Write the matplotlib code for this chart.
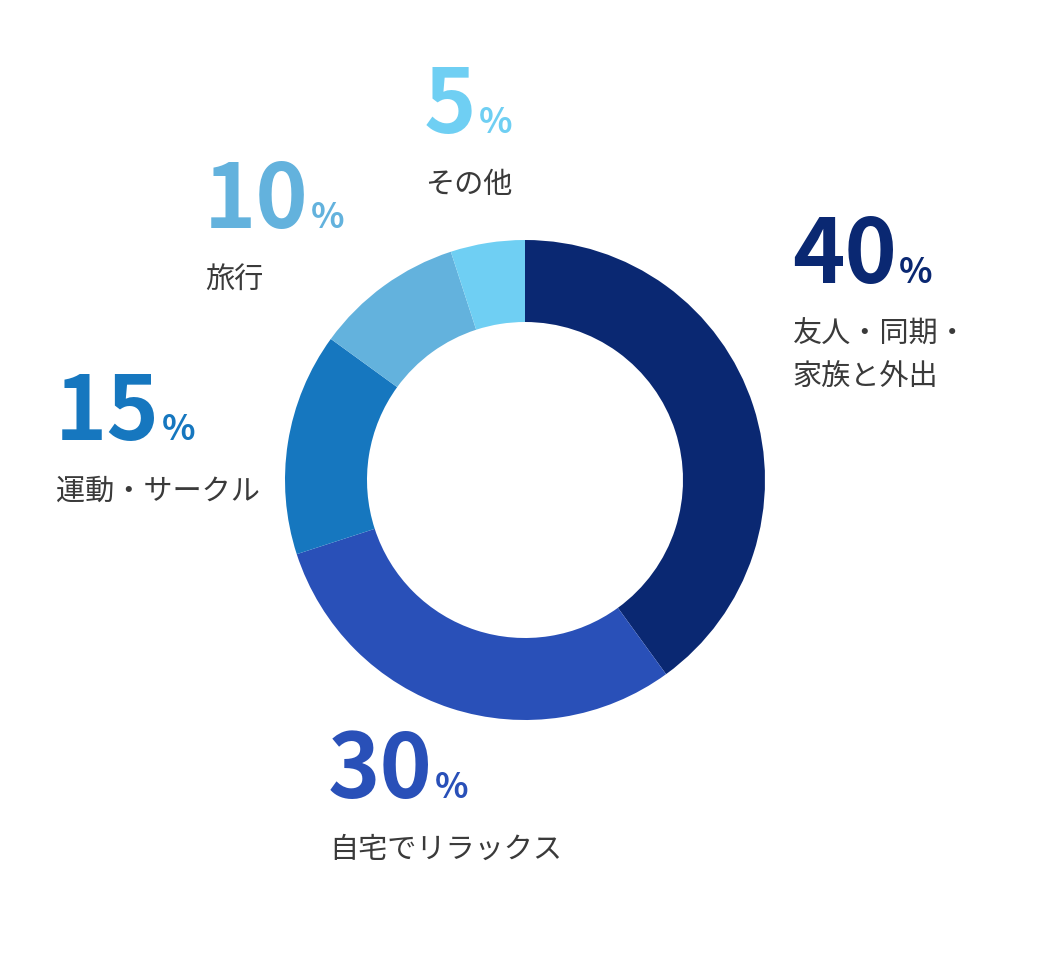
import matplotlib
matplotlib.use("Agg")
import matplotlib.pyplot as plt

plt.rcParams['font.family'] = ['Noto Sans CJK JP', 'DejaVu Sans']

categories = ["友人・同期・\n家族と外出", "自宅でリラックス", "運動・サークル", "旅行", "その他"]
values = [40, 30, 15, 10, 5]
colors = ["#0A2872", "#2950B8", "#1677BF", "#63B2DD", "#6FCFF3"]

# label anchor positions (pixel coords, y from top): left x, number baseline y
label_pos = [(795, 283), (331, 798), (58, 440), (207, 228), (427, 133)]

W, H = 1050, 960
fig = plt.figure(figsize=(W / 100, H / 100), dpi=100)
ax = fig.add_axes([0, 0, 1, 1])

cx, cy = 525, H - 480
R = 240
width = 82
ax.pie(values, colors=colors, startangle=90, counterclock=False,
       radius=R, center=(cx, cy), wedgeprops=dict(width=width, linewidth=0),
       frame=True)
ax.set_xlim(0, W)
ax.set_ylim(0, H)
ax.set_aspect('equal')
ax.axis('off')

fig.canvas.draw()
renderer = fig.canvas.get_renderer()
inv = ax.transData.inverted()

for cat, val, col, (lx, by) in zip(categories, values, colors, label_pos):
    t = ax.text(lx - 3, H - by, str(val), fontsize=64, fontweight='bold', color=col,
                ha='left', va='baseline')
    bb = t.get_window_extent(renderer)
    xr = inv.transform((bb.x1, bb.y0))[0]
    ax.text(xr + 2, H - by, "%", fontsize=25, fontweight='bold', color=col,
            ha='left', va='baseline')
    lines = cat.split("\n")
    for i, ln in enumerate(lines):
        ax.text(lx - 2, H - (by + 52 + 42 * i), ln, fontsize=21, color="#3a3a3a",
                ha='left', va='center')

fig.savefig("out.png", dpi=100, facecolor='white')
